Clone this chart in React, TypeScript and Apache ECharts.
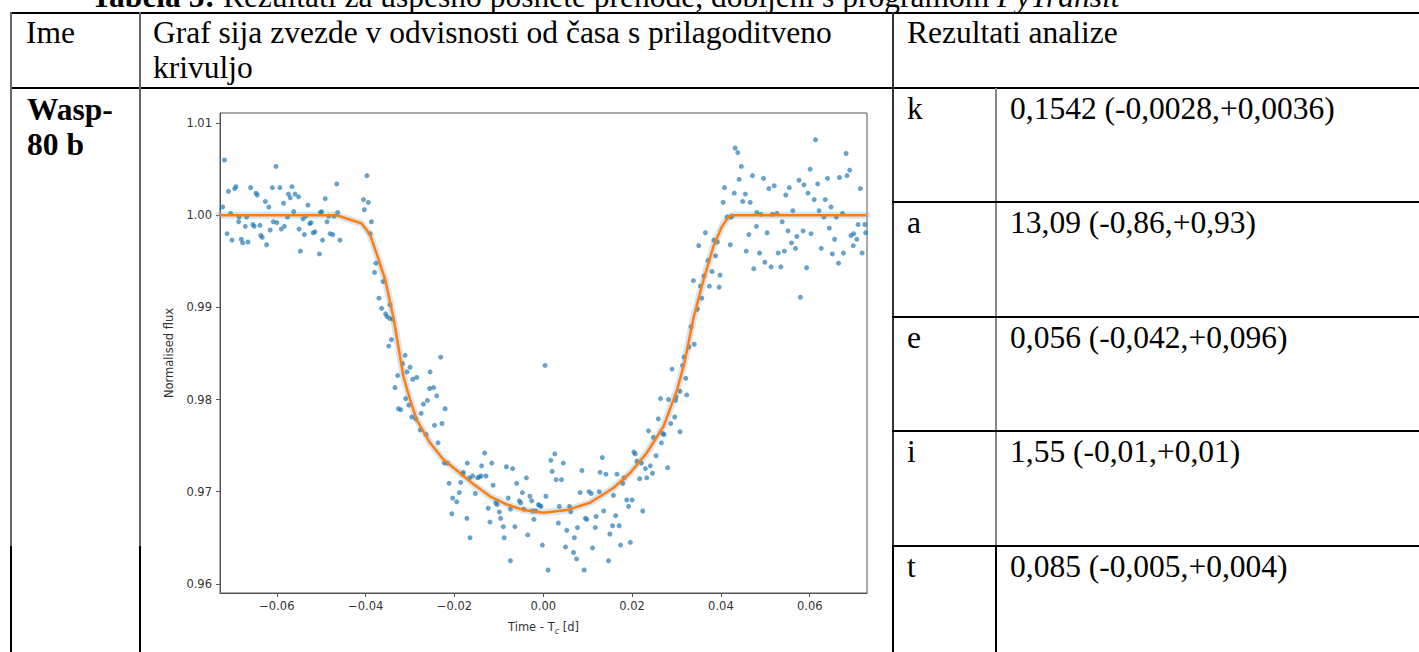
import React, { useEffect, useRef } from 'react';
import * as echarts from 'echarts';

// ---- Observed light curve (time - Tc [d], normalised flux) ----
const preTransit: [number, number][] = [
  [-0.0718, 1.006], [-0.0722, 1.0009], [-0.0709, 1.0026], [-0.0712, 0.998], [-0.0704, 1.0002], [-0.0701, 0.9973],
  [-0.0695, 1.0029], [-0.0692, 1.0031], [-0.0686, 0.9993], [-0.0685, 0.9998], [-0.068, 0.9974], [-0.0677, 0.997],
  [-0.0671, 0.9988], [-0.0668, 0.9998], [-0.0665, 0.9971], [-0.0659, 1.003], [-0.0654, 0.999], [-0.0651, 0.9988],
  [-0.0647, 1.0024], [-0.0644, 1.0022], [-0.0638, 0.9989], [-0.0636, 0.9978], [-0.0633, 0.9976], [-0.0626, 1.0015],
  [-0.0623, 0.9968], [-0.0618, 1.0009], [-0.0615, 0.9984], [-0.061, 1.003], [-0.0608, 0.9993], [-0.0602, 1.0053],
  [-0.06, 0.9992], [-0.0593, 1.003], [-0.059, 0.9985], [-0.0585, 1.0013], [-0.0583, 0.9988], [-0.0576, 0.9998],
  [-0.0574, 1.0023], [-0.057, 1.0019], [-0.0566, 1.0031], [-0.0562, 1.0004], [-0.0559, 1.0023], [-0.0551, 1.002],
  [-0.055, 0.9985], [-0.0547, 0.9961], [-0.0541, 0.9996], [-0.0538, 0.9979], [-0.0535, 0.9999], [-0.053, 1.0011],
  [-0.0526, 0.9991], [-0.0523, 0.9992], [-0.0518, 0.9981], [-0.0514, 0.9982], [-0.0504, 0.9958], [-0.0502, 1.0003],
  [-0.0499, 1.0004], [-0.0497, 0.9973], [-0.0491, 1.0018], [-0.0487, 0.9993], [-0.0483, 0.9999], [-0.048, 0.998],
  [-0.0474, 0.9979], [-0.0471, 0.9999], [-0.0465, 1.0034], [-0.0463, 1.0003], [-0.0458, 0.9973],
];

const ingress: [number, number][] = [
  [-0.0405, 1.0017], [-0.0403, 1.0006], [-0.0397, 1.0043], [-0.0394, 1.0014], [-0.039, 0.998], [-0.0387, 0.9993],
  [-0.038, 0.9938], [-0.0377, 0.9948], [-0.037, 0.991], [-0.0364, 0.9899], [-0.0361, 0.9928], [-0.0355, 0.9893],
  [-0.0352, 0.989], [-0.0345, 0.9903], [-0.0346, 0.9888], [-0.0339, 0.9887], [-0.0307, 0.983],
  [-0.0348, 0.9858], [-0.0342, 0.9865], [-0.0328, 0.9826], [-0.0334, 0.9813], [-0.0326, 0.979], [-0.0321, 0.9789],
  [-0.0317, 0.9839], [-0.0311, 0.9848], [-0.031, 0.9801], [-0.0303, 0.9794], [-0.03, 0.9835], [-0.0294, 0.9822],
  [-0.0285, 0.9824], [-0.0296, 0.9781], [-0.0287, 0.9779], [-0.0277, 0.9767], [-0.0275, 0.9785], [-0.027, 0.9795],
  [-0.0264, 0.9762], [-0.0261, 0.9799], [-0.0255, 0.983], [-0.0256, 0.9812], [-0.0247, 0.9813], [-0.0245, 0.9772],
  [-0.024, 0.9804], [-0.0237, 0.9753], [-0.0231, 0.9846], [-0.0228, 0.9774], [-0.0221, 0.979],
];

const transitBottom: [number, number][] = [
  [-0.0223, 0.9731], [-0.0216, 0.9731], [-0.0212, 0.9709], [-0.0206, 0.9676], [-0.0204, 0.9693], [-0.0195, 0.9689],
  [-0.0189, 0.9699], [-0.0186, 0.971], [-0.018, 0.9721], [-0.0182, 0.9719], [-0.0171, 0.9731], [-0.0172, 0.9671],
  [-0.0165, 0.965], [-0.0166, 0.9715], [-0.0159, 0.9717], [-0.0153, 0.9698], [-0.0148, 0.9715], [-0.0144, 0.9716],
  [-0.0139, 0.9728], [-0.0132, 0.9742], [-0.014, 0.9717], [-0.0129, 0.9717], [-0.0116, 0.9731], [-0.0113, 0.9707],
  [-0.0124, 0.9682], [-0.012, 0.9667], [-0.0107, 0.9688], [-0.0104, 0.9686], [-0.0099, 0.9678], [-0.0096, 0.9671],
  [-0.009, 0.9662], [-0.0088, 0.965], [-0.0083, 0.9727], [-0.0079, 0.9693], [-0.0074, 0.9681], [-0.0074, 0.9625],
  [-0.0069, 0.9725], [-0.0064, 0.9662], [-0.006, 0.9709], [-0.0054, 0.969], [-0.0051, 0.9688], [-0.0047, 0.9699],
  [-0.0044, 0.9681], [-0.0038, 0.9715], [-0.0035, 0.9653], [-0.003, 0.9695], [-0.0026, 0.969], [-0.0024, 0.9679],
  [-0.0021, 0.967], [-0.0017, 0.9679], [-0.0011, 0.9686], [-0.0008, 0.9685], [-0.0005, 0.9684], [-0.0002, 0.9642],
  [0.0004, 0.9837], [0.0006, 0.9695], [0.0011, 0.9615], [0.0017, 0.9734], [0.002, 0.9722], [0.0026, 0.9741],
  [0.0029, 0.9713], [0.0034, 0.9666], [0.0036, 0.9684], [0.0041, 0.9713], [0.0045, 0.9731], [0.005, 0.964],
  [0.0053, 0.9658], [0.0059, 0.9684], [0.0062, 0.9678], [0.0068, 0.9634], [0.007, 0.965], [0.0075, 0.9627],
  [0.0077, 0.9661], [0.0083, 0.9699], [0.0087, 0.9723], [0.0092, 0.9615], [0.0095, 0.9671], [0.0098, 0.967],
  [0.0103, 0.97], [0.0108, 0.9698], [0.0111, 0.9639], [0.0117, 0.9661], [0.0119, 0.9673], [0.0126, 0.97],
  [0.0128, 0.9721], [0.0133, 0.9737], [0.0136, 0.9679], [0.0141, 0.9719], [0.0147, 0.9625], [0.015, 0.9654],
  [0.0156, 0.9663], [0.0158, 0.9696], [0.0163, 0.9674], [0.0166, 0.9719], [0.0171, 0.9663], [0.0174, 0.9642],
  [0.0179, 0.9709], [0.0182, 0.9715], [0.0188, 0.9691], [0.0192, 0.9684], [0.0196, 0.9645], [0.02, 0.9691],
];

const egress: [number, number][] = [
  [0.0204, 0.9743], [0.0207, 0.9741], [0.0211, 0.9733], [0.0217, 0.9714], [0.0221, 0.9731], [0.0224, 0.9679],
  [0.023, 0.9725], [0.0233, 0.9715], [0.0237, 0.9766], [0.0241, 0.9728], [0.0246, 0.972], [0.0248, 0.9759],
  [0.0254, 0.9739], [0.0259, 0.9779], [0.0264, 0.9801], [0.0266, 0.9753], [0.0269, 0.9763], [0.0272, 0.9762],
  [0.028, 0.9726], [0.0282, 0.98], [0.0287, 0.9774], [0.029, 0.9833], [0.0296, 0.9781], [0.0298, 0.9799],
  [0.0299, 0.9803], [0.0308, 0.9765], [0.0308, 0.9809], [0.0314, 0.9837], [0.0317, 0.9846], [0.0321, 0.9823],
  [0.0323, 0.9805], [0.0328, 0.9857], [0.034, 0.986], [0.0333, 0.9879], [0.0347, 0.9898], [0.0357, 0.991],
  [0.0362, 0.9934], [0.0338, 0.9929], [0.0354, 0.9923], [0.0374, 0.9923], [0.0396, 0.9922], [0.0398, 0.9935],
  [0.0371, 0.9951], [0.038, 0.9939], [0.0388, 0.9956], [0.035, 0.9967], [0.0365, 0.9981], [0.0384, 0.9973],
  [0.0392, 0.9971], [0.0421, 0.9968], [0.0414, 0.9998], [0.0422, 0.9998], [0.0425, 0.9999], [0.0408, 1.003],
  [0.0405, 1.0014], [0.043, 1.0024],
];

const postTransit: [number, number][] = [
  [0.0432, 1.0073], [0.0438, 1.0068], [0.0446, 1.0053], [0.0441, 1.0039], [0.0455, 1.0023], [0.0449, 1.0015],
  [0.0466, 1.0014], [0.0471, 1.0043], [0.0496, 1.004], [0.0508, 1.0029], [0.052, 1.0032], [0.0546, 1.0022],
  [0.0554, 1.003], [0.0576, 1.0038], [0.0587, 1.0033], [0.0596, 1.0024], [0.0601, 1.005], [0.0613, 1.0082],
  [0.0618, 1.0034], [0.061, 1.0017], [0.0635, 1.0017], [0.064, 1.004], [0.0648, 1.0009], [0.0667, 1.0041],
  [0.0682, 1.0067], [0.0684, 1.0043], [0.069, 1.0049], [0.0714, 1.0029], [0.0621, 1.0005], [0.0632, 0.9998],
  [0.0674, 1.0002], [0.0562, 1.0005], [0.0526, 1.0002], [0.0516, 1.0001], [0.049, 1.0001], [0.0481, 1.0003],
  [0.0538, 0.9993], [0.048, 0.9988], [0.0463, 0.9979], [0.0504, 0.9981], [0.0551, 0.9983], [0.0585, 0.9983],
  [0.0603, 0.998], [0.0644, 0.9986], [0.066, 0.9998], [0.0709, 0.999], [0.0699, 0.998], [0.0693, 0.9978],
  [0.0724, 0.999], [0.0726, 0.9981], [0.0706, 0.9974], [0.0698, 0.9967], [0.0718, 0.9959], [0.0676, 0.9959],
  [0.0651, 0.9958], [0.0656, 0.9974], [0.0626, 0.9964], [0.0571, 0.9977], [0.0559, 0.997], [0.0568, 0.9964],
  [0.0543, 0.9961], [0.0529, 0.9959], [0.0487, 0.9959], [0.0457, 0.9961], [0.0499, 0.9949], [0.0513, 0.9944],
  [0.0535, 0.9944], [0.0593, 0.9943], [0.0665, 0.9948], [0.0474, 0.9942], [0.0579, 0.9911],
];

// ---- Fitted transit model ----
const modelCurve: [number, number][] = [
  [-0.0729, 1.0], [-0.0465, 1.0], [-0.0409, 0.9991], [-0.039, 0.9979], [-0.0373, 0.9955], [-0.0356, 0.993],
  [-0.0337, 0.9888], [-0.0315, 0.9825], [-0.03, 0.98], [-0.0285, 0.9778], [-0.0255, 0.9753], [-0.0225, 0.9735],
  [-0.0187, 0.972], [-0.0157, 0.9708], [-0.012, 0.9695], [-0.0082, 0.9686], [-0.0044, 0.968], [0.0, 0.9677],
  [0.0053, 0.968], [0.0105, 0.9688], [0.0158, 0.9704], [0.0195, 0.972], [0.0233, 0.9742], [0.0271, 0.9771],
  [0.0301, 0.981], [0.0318, 0.984], [0.0338, 0.9888], [0.0361, 0.993], [0.0383, 0.9966], [0.0402, 0.99875],
  [0.0417, 0.9998], [0.0429, 1.0], [0.0729, 1.0],
];

// ---- Axes ----
const xTickValues = [-0.06, -0.04, -0.02, 0, 0.02, 0.04, 0.06];
const yTickValues = [0.96, 0.97, 0.98, 0.99, 1.0, 1.01];
const xRange = [-0.0728, 0.0729];
const yRange = [0.959, 1.0111];
const xAxisTitle = 'Time - T{sub|c} [d]';
const yAxisTitle = 'Normalised flux';

// ---- Table texts ----
const captionBold = 'Tabela 5:';
const captionText = ' Rezultati za uspešno posnete prehode, dobljeni s programom ';
const captionItalic = 'PyTransit';
const headerName = 'Ime';
const headerGraph = ['Graf sija zvezde v odvisnosti od časa s prilagoditveno', 'krivuljo'];
const headerResults = 'Rezultati analize';
const planetName = ['Wasp-', '80 b'];
const paramNames = ['k', 'a', 'e', 'i', 't'];
const paramValues = [
  '0,1542 (-0,0028,+0,0036)',
  '13,09 (-0,86,+0,93)',
  '0,056 (-0,042,+0,096)',
  '1,55 (-0,01,+0,01)',
  '0,085 (-0,005,+0,004)',
];

const fmt = (v: number) => {
  const s = Math.abs(v).toFixed(2);
  return v < -1e-9 ? '\u2212' + s : s;
};

const SERIF = '"Liberation Serif", "Times New Roman", serif';

function Line({ l, t, w, h, c }: { l: number; t: number; w: number; h: number; c: string }) {
  return <div style={{ position: 'absolute', left: l, top: t, width: w, height: h, background: c }} />;
}

function Txt({ l, t, children, style }: { l: number; t: number; children: React.ReactNode; style?: React.CSSProperties }) {
  return (
    <div style={{ position: 'absolute', left: l, top: t, whiteSpace: 'pre', ...style }}>{children}</div>
  );
}

export default function App() {
  const ref = useRef<HTMLDivElement>(null);

  useEffect(() => {
    if (!ref.current) return;
    const chart = echarts.init(ref.current, null, { renderer: 'svg' });
    const points = [...preTransit, ...ingress, ...transitBottom, ...egress, ...postTransit];
    const labelStyle = { fontFamily: 'DejaVu Sans', fontSize: 11.5, color: '#333' };
    chart.setOption({
      animation: false,
      grid: {
        left: 78, top: 23, width: 647, height: 480,
        show: true, borderColor: '#555', borderWidth: 1, backgroundColor: 'transparent',
      },
      xAxis: {
        type: 'value', min: xRange[0], max: xRange[1],
        splitLine: { show: false },
        axisLine: { show: true, onZero: false, lineStyle: { color: '#555', width: 1 } },
        axisTick: { show: true, customValues: xTickValues, length: 4, lineStyle: { color: '#555' } },
        axisLabel: { customValues: xTickValues, formatter: fmt, margin: 7, ...labelStyle },
        name: xAxisTitle, nameLocation: 'middle', nameGap: 28,
        nameTextStyle: {
          ...labelStyle,
          rich: { sub: { fontFamily: 'DejaVu Sans', fontSize: 8, fontStyle: 'italic', color: '#333', verticalAlign: 'bottom', padding: [0, 0, -2, 0] } },
        },
      },
      yAxis: {
        type: 'value', min: yRange[0], max: yRange[1],
        splitLine: { show: false },
        axisLine: { show: true, onZero: false, lineStyle: { color: '#555', width: 1 } },
        axisTick: { show: true, customValues: yTickValues, length: 4, lineStyle: { color: '#555' } },
        axisLabel: { customValues: yTickValues, formatter: fmt, margin: 8, ...labelStyle },
        name: yAxisTitle, nameLocation: 'middle', nameGap: 42, nameRotate: 90,
        nameTextStyle: { ...labelStyle },
      },
      series: [
        {
          type: 'line', data: modelCurve, showSymbol: false, silent: true, z: 2,
          lineStyle: { width: 7, color: 'rgba(150,175,205,0.35)', cap: 'round', join: 'round' },
        },
        {
          type: 'scatter', data: points, symbolSize: 5, z: 3,
          itemStyle: { color: '#1f77b4', opacity: 0.68 },
        },
        {
          type: 'line', data: modelCurve, showSymbol: false, z: 4,
          lineStyle: { width: 2.5, color: '#ff7f0e', join: 'round' },
        },
      ],
    });
    return () => chart.dispose();
  }, []);

  const rowTop = [88, 202, 317, 431, 546];

  return (
    <div
      style={{
        position: 'absolute', left: 0, top: 0, width: 1419, height: 652, overflow: 'hidden',
        background: '#fff', fontFamily: SERIF, fontSize: 31.5, lineHeight: '35.5px', color: '#000',
      }}
    >
      {/* caption (cut at the top) */}
      <Txt l={91} t={-21.4}>
        <b>{captionBold}</b>
        {captionText}
        <i>{captionItalic}</i>
      </Txt>

      {/* table lines */}
      <Line l={10} t={12} w={1409} h={2} c="#000" />
      <Line l={10} t={87} w={1409} h={2} c="#000" />
      <Line l={10} t={12} w={2} h={535} c="#666" />
      <Line l={10} t={546} w={2} h={106} c="#000" />
      <Line l={139} t={12} w={2} h={535} c="#666" />
      <Line l={139} t={546} w={2} h={106} c="#000" />
      <Line l={892} t={12} w={2} h={535} c="#333" />
      <Line l={892} t={546} w={2} h={106} c="#000" />
      <Line l={995} t={88} w={2} h={459} c="#888" />
      <Line l={995} t={546} w={2} h={106} c="#000" />
      {rowTop.slice(1).map((y) => (
        <Line key={y} l={892} t={y - 1} w={527} h={2} c="#000" />
      ))}

      {/* header */}
      <Txt l={26} t={14.9}>{headerName}</Txt>
      <Txt l={153} t={14.9}>{headerGraph[0] + '\n' + headerGraph[1]}</Txt>
      <Txt l={907} t={14.9}>{headerResults}</Txt>

      {/* name */}
      <Txt l={27} t={91.6} style={{ fontWeight: 'bold' }}>{planetName[0] + '\n' + planetName[1]}</Txt>

      {/* results */}
      {paramNames.map((p, i) => (
        <Txt key={p} l={907} t={rowTop[i] + 2.6}>{p}</Txt>
      ))}
      {paramValues.map((v, i) => (
        <Txt key={i} l={1010} t={rowTop[i] + 2.6}>{v}</Txt>
      ))}

      {/* chart */}
      <div ref={ref} style={{ position: 'absolute', left: 142, top: 90, width: 748, height: 560 }} />
    </div>
  );
}
